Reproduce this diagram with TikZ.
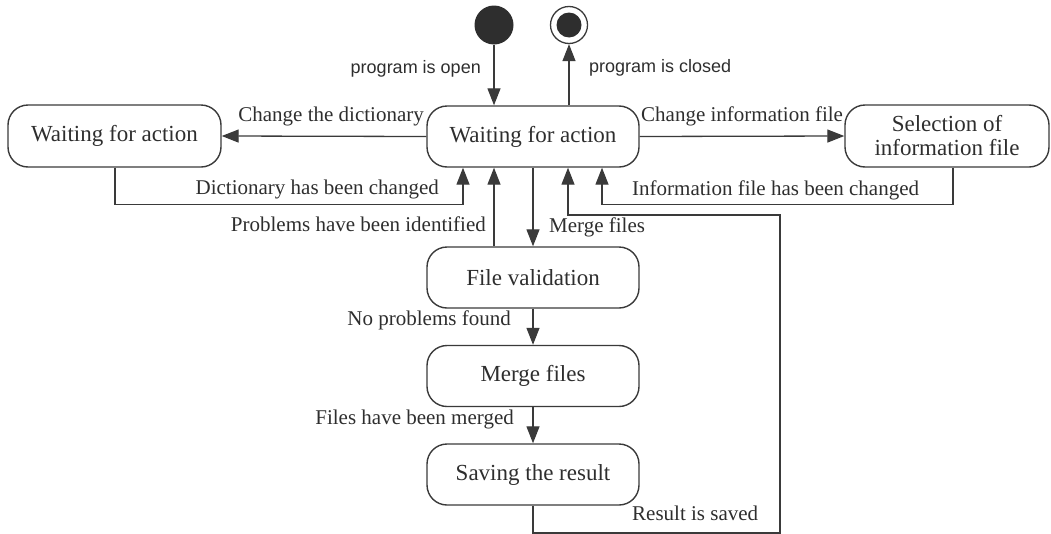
\documentclass[tikz,border=0pt]{standalone}
\usepackage{fontspec}
\setmainfont{Liberation Serif}
\setsansfont{Liberation Sans}
\usetikzlibrary{arrows.meta,calc}
\definecolor{ink}{HTML}{2E2E2E}
\definecolor{linec}{HTML}{3A3A3A}
\tikzset{
  state/.style={draw=linec, line width=1.4pt, rounded corners=20pt, minimum width=212pt, minimum height=61pt,
    align=center, inner sep=0pt, text=ink, font=\fontsize{23}{25}\selectfont},
  arr/.style={draw=linec, line width=1.3pt, -{Triangle[length=17pt,width=13pt]}},
  lbl/.style={inner sep=0pt, text=ink, font=\fontsize{21}{23}\selectfont, text height=0.7em, text depth=0.2em},
  slbl/.style={inner sep=0pt, text=ink, font=\sffamily\fontsize{18}{20}\selectfont, text height=0.7em, text depth=0.2em},
  initst/.style={circle, fill=ink, minimum size=39pt, inner sep=0pt},
  finalst/.style={circle, draw=linec, line width=1.3pt, minimum size=37pt, inner sep=0pt,
    path picture={\fill[ink] (path picture bounding box.center) circle (12.5pt);}}
}
\begin{document}
\begin{tikzpicture}[x=1pt,y=-1pt]
\useasboundingbox (0,0) rectangle (1051,533);
\clip (0,0) rectangle (1051,533);
% states
\node[initst] (init) at (494,25) {};
\node[finalst] (final) at (569,25) {};
\node[state] (main) at (533,136.5) {Waiting for action};
\node[state, minimum width=213pt, minimum height=62pt] (left) at (114.5,136) {Waiting for action};
\node[state, minimum width=204pt, minimum height=62pt, font=\fontsize{23}{24}\selectfont] (right) at (947,136) {Selection of\\information file};
\node[state] (fv) at (533,277.5) {File validation};
\node[state] (mf) at (533,376) {Merge files};
\node[state] (sv) at (533,474.5) {Saving the result};
% bend points
\coordinate (d1) at (115,204.5);
\coordinate (d2) at (463,204.5);
\coordinate (i1) at (953,204.5);
\coordinate (i2) at (602,204.5);
\coordinate (r1) at (533,533);
\coordinate (r2) at (780,533);
\coordinate (r3) at (780,215);
\coordinate (r4) at (568,215);
% connectors
\draw[arr] (init) -- (main.north -| init);
\draw[arr] (main.north -| final) -- (final);
\draw[arr] (main.west) -- (left.east);
\draw[arr] (main.east) -- (right.west);
\draw[arr] (left.south -| d1) -- (d1) -- (d2) -- (d2 |- main.south);
\draw[arr] (right.south -| i1) -- (i1) -- (i2) -- (i2 |- main.south);
\draw[arr] (fv.north -| init) -- (main.south -| init);
\draw[arr] (main.south) -- (fv.north);
\draw[arr] (fv.south) -- (mf.north);
\draw[arr] (mf.south) -- (sv.north);
\draw[arr] (sv.south) -- (r1) -- (r2) -- (r3) -- (r4) -- (r4 |- main.south);
% labels
\node[slbl, anchor=east] (lopen) at (481,71) {program is open};
\node[slbl, anchor=west] (lclosed) at (589,70) {program is closed};
\node[lbl, anchor=east] (lchd) at (424,119) {Change the dictionary};
\node[lbl, anchor=west] (lchi) at (641,119) {Change information file};
\node[lbl, anchor=east] (ldhc) at (439,192) {Dictionary has been changed};
\node[lbl, anchor=west] (lifc) at (632,193) {Information file has been changed};
\node[lbl, anchor=east] (lpi) at (486,229) {Problems have been identified};
\node[lbl, anchor=west] (lmf) at (549,230) {Merge files};
\node[lbl, anchor=east] (lnp) at (511,323) {No problems found};
\node[lbl, anchor=east] (lfm) at (514,422) {Files have been merged};
\node[lbl, anchor=west] (lrs) at (632,518) {Result is saved};
\end{tikzpicture}
\end{document}
